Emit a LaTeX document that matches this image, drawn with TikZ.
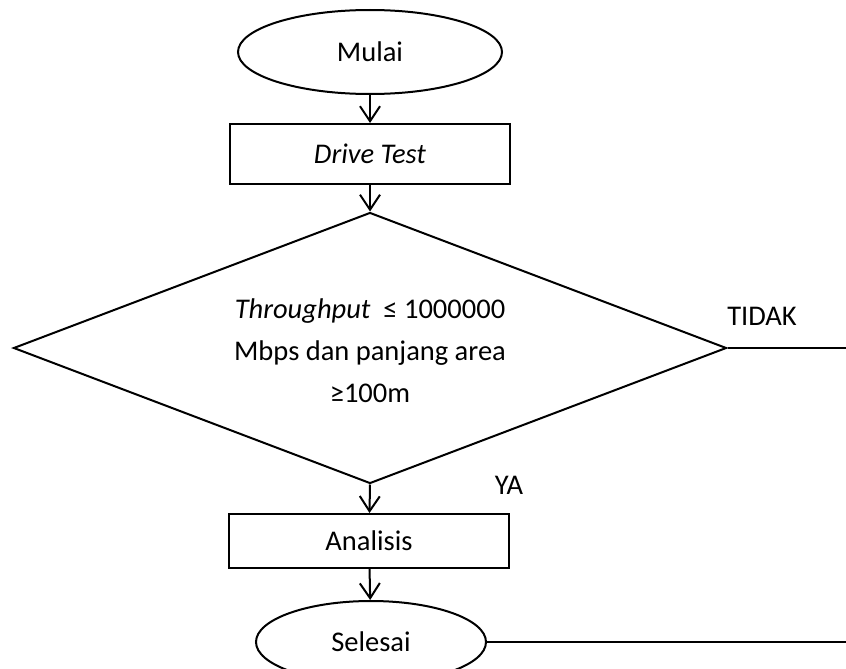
\documentclass[tikz,border=0pt]{standalone}
\usepackage{fontspec}
\setmainfont{Carlito}
\usetikzlibrary{arrows.meta,positioning,shapes.geometric}

\begin{document}
\begin{tikzpicture}[
  x=1pt, y=-1pt,
  >={Straight Barb[length=15pt,width=20pt,line width=2pt]},
  every node/.style={font=\fontsize{28.5}{42}\selectfont},
  terminal/.style={ellipse, draw, line width=2pt, inner sep=0pt,
    minimum width=#1, minimum height=84pt},
  process/.style={rectangle, draw, line width=2pt, inner sep=0pt,
    minimum width=280pt, minimum height=#1},
  decision/.style={diamond, draw, line width=2pt, inner sep=0pt,
    aspect=2.63, minimum width=713pt, minimum height=271pt, align=center},
  flow/.style={->, line width=2pt},
  link/.style={line width=2pt},
  answer/.style={font=\fontsize{28.5}{34}\selectfont},
]
\useasboundingbox (0,0) rectangle (846,669);

% Nodes
\node[terminal=264pt] at (370, 52) (mulai) {Mulai};
\node[process=60pt] at (370, 154) (drive) {\textit{Drive Test}};
\node[decision] at (370, 348) (cek) {};
\node[align=center] at (370, 351) (syarat)
  {\textit{Throughput}\ \ ≤ 1000000\\Mbps dan panjang area\\≥100m};
\node[process=54pt] at (369, 541) (analisis) {Analisis};
\node[terminal=230pt, minimum height=82pt] at (371, 642) (selesai) {Selesai};

% Free ends at the right border
\coordinate (tidakend) at (846, 348);
\coordinate (selesaiend) at (846, 642);

% Labels
\node[answer] at (762, 316) (tidak) {TIDAK};
\node[answer] at (509, 485) (ya) {YA};

% Connectors
\draw[flow] (mulai) -- (drive);
\draw[flow] (drive) -- (cek.north);
\draw[flow] (cek.south) -- (analisis);
\draw[flow] (analisis) -- (selesai);
\draw[link] (cek.east) -- (tidakend);
\draw[link] (selesai.east) -- (selesaiend);

\end{tikzpicture}
\end{document}
